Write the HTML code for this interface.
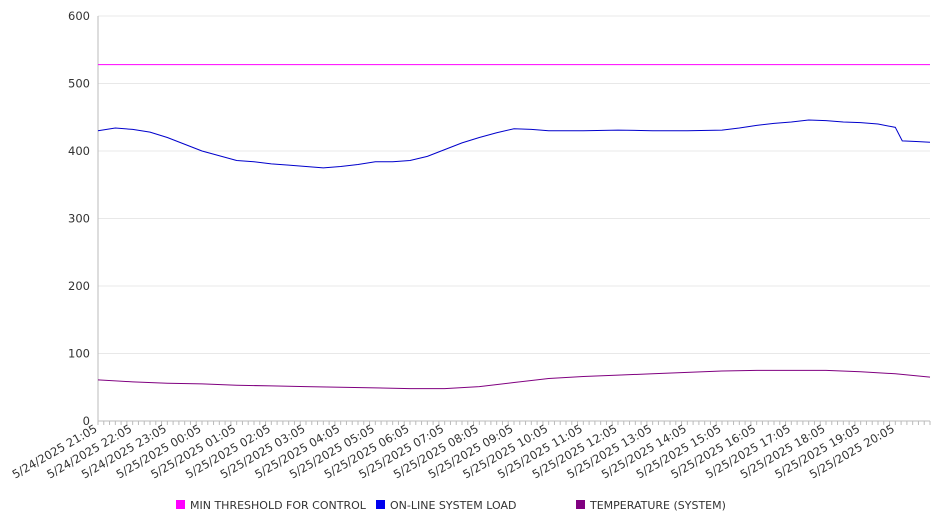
<!DOCTYPE html>
<html><head><meta charset="utf-8"><style>
body{margin:0;background:#fff;font-family:"DejaVu Sans","Liberation Sans",sans-serif;}
svg text{font-family:"DejaVu Sans","Liberation Sans",sans-serif;fill:#333;}
</style></head><body>
<svg id="chart" width="946" height="526" xmlns="http://www.w3.org/2000/svg"></svg>
<script>
const hours=[0,0.5,1,1.5,2,2.5,3,3.5,4,4.5,5,5.5,6,6.5,7,7.5,8,8.5,9,9.5,10,10.5,11,11.5,12,12.5,13,14,15,16,17,18,18.5,19,19.5,20,20.5,21,21.5,22,22.5,23,23.2,23.6,24];
const loadValues=[430,434,432,428,420,410,400,393,386,384,381,379,377,375,377,380,384,384,386,392,402,412,420,427,433,432,430,430,431,430,430,431,434,438,441,443,446,445,443,442,440,435,415,414,413];
const tempHours=[0,1,2,3,4,5,6,7,8,9,10,11,12,13,14,15,16,17,18,19,20,21,22,23,24];
const tempValues=[61,58,56,55,53,52,51,50,49,48,48,51,57,63,66,68,70,72,74,75,75,75,73,70,65];
const thresholdValue=528;
const yTicks=[0,100,200,300,400,500,600];
const xLabels=["5/24/2025 21:05","5/24/2025 22:05","5/24/2025 23:05","5/25/2025 00:05","5/25/2025 01:05","5/25/2025 02:05","5/25/2025 03:05","5/25/2025 04:05","5/25/2025 05:05","5/25/2025 06:05","5/25/2025 07:05","5/25/2025 08:05","5/25/2025 09:05","5/25/2025 10:05","5/25/2025 11:05","5/25/2025 12:05","5/25/2025 13:05","5/25/2025 14:05","5/25/2025 15:05","5/25/2025 16:05","5/25/2025 17:05","5/25/2025 18:05","5/25/2025 19:05","5/25/2025 20:05"];
const legendNames=["MIN THRESHOLD FOR CONTROL","ON-LINE SYSTEM LOAD","TEMPERATURE (SYSTEM)"];
const legendColors=["#ff00ff","#0000ee","#800080"];
const X0=98,X1=930,Y0=421,Y1=16;
const sx=h=>X0+(h/24)*(X1-X0);
const sy=v=>Y0-(v/600)*(Y0-Y1);
const svg=document.getElementById('chart');
const NS='http://www.w3.org/2000/svg';
function mk(t,a,p){const e=document.createElementNS(NS,t);for(const k in a)e.setAttribute(k,a[k]);(p||svg).appendChild(e);return e;}
yTicks.forEach(v=>{
  const g=mk('line',{x1:X0,x2:X1,y1:sy(v),y2:sy(v),stroke:v===0?'#bbb':'#e8e8e8'});
  
  
  const t=mk('text',{x:90,y:sy(v)+4,'text-anchor':'end','font-size':'11.5'});
  t.textContent=v;
  
  
});
const ax=mk('line',{x1:X0,x2:X0,y1:Y1,y2:Y0,stroke:'#bbb'});


for(let i=0;i<=24*6;i++){
  const x=sx(i/6);
  const tk=mk('line',{x1:x,x2:x,y1:Y0,y2:Y0+4,stroke:'#bbb'});
  
  
}
xLabels.forEach((l,i)=>{
  const x=sx(i);
  const t=mk('text',{x:x,y:Y0+10,'text-anchor':'end','font-size':'11.5',transform:`rotate(-30 ${x} ${Y0+10})`});
  t.textContent=l;
  
  
});
const th=mk('line',{x1:X0,x2:X1,y1:sy(thresholdValue),y2:sy(thresholdValue),stroke:'#ff00ff','stroke-width':1});


const lp=mk('polyline',{points:hours.map((h,i)=>sx(h)+','+sy(loadValues[i])).join(' '),fill:'none',stroke:'#0000cc','stroke-width':1});


const tp=mk('polyline',{points:tempHours.map((h,i)=>sx(h)+','+sy(tempValues[i])).join(' '),fill:'none',stroke:'#800080','stroke-width':1});


const lx=[176,376,576];
legendNames.forEach((n,i)=>{
  const r=mk('rect',{x:lx[i],y:500,width:9,height:9,fill:legendColors[i]});
  
  
  const t=mk('text',{x:lx[i]+14,y:509,'font-size':'11'});
  t.textContent=n;
  
  
});
</script>
</body></html>
